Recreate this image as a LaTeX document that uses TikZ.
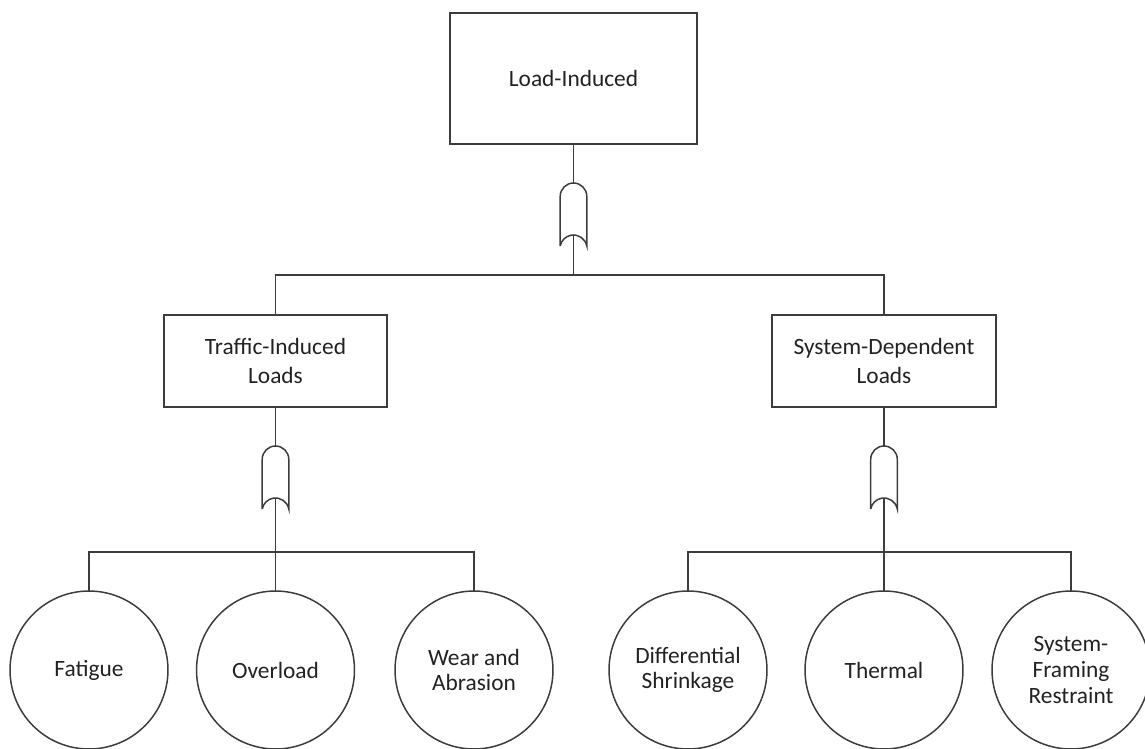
\documentclass[tikz,border=0pt]{standalone}
\usepackage{fontspec}
\setmainfont{Carlito}
\definecolor{ln}{HTML}{3C3C3C}
\definecolor{tx}{HTML}{222222}
\begin{document}
\begin{tikzpicture}[x=0.02cm,y=0.02cm,
  every node/.style={inner sep=0pt,outer sep=0pt,text=tx,align=center},
  conn/.style={draw=ln,line width=0.85pt},
  gateline/.style={draw=ln,line width=0.85pt},
  evbox/.style={draw=ln,line width=0.85pt,rectangle,font=\fontsize{13.3}{16.5}\selectfont},
  evcirc/.style={draw=ln,line width=0.85pt,circle,minimum size=3.16cm,font=\fontsize{13.3}{14.6}\selectfont},
  orgate/.pic={
    \draw[gateline] (-13.3,-63) -- (-13.3,-13.3) arc[start angle=180,end angle=0,radius=0.266cm]
      -- (13.3,-63) arc[start angle=10.8,end angle=169.2,radius=0.271cm];
    \coordinate (-in) at (0,0);
    \coordinate (-out) at (0,-52);
  }]
\useasboundingbox (0,0) rectangle (1145,-748);

% events
\node[evbox,minimum width=4.94cm,minimum height=2.62cm] (top) at (573.5,-78.5) {Load-Induced};
\node[evbox,minimum width=4.46cm,minimum height=1.84cm] (traffic) at (275.5,-361) {Traffic-Induced\\Loads};
\node[evbox,minimum width=4.48cm,minimum height=1.84cm] (system) at (884,-361) {System-Dependent\\Loads};

\node[evcirc] (c1) at (89,-670) {Fatigue};
\node[evcirc] (c2) at (275.5,-670) {Overload};
\node[evcirc] (c3) at (474,-670) {Wear and\\Abrasion};
\node[evcirc] (c4) at (688,-670) {Differential\\Shrinkage};
\node[evcirc] (c5) at (884,-670) {Thermal};
\node[evcirc] (c6) at (1071,-670) {System-\\Framing\\Restraint};

% gates
\pic (g1) at (573.5,-183) {orgate};
\pic (g2) at (275.5,-446) {orgate};
\pic (g3) at (884,-446) {orgate};

% junctions
\coordinate (j1) at (573.5,-275);
\coordinate (j2) at (275.5,-552);
\coordinate (j3) at (884,-552);

% connectors
\draw[conn] (top.south) -- (g1-in);
\draw[conn] (g1-out) -- (j1);
\draw[conn] (traffic.north) |- (j1) -| (system.north);

\draw[conn] (traffic.south) -- (g2-in);
\draw[conn] (g2-out) -- (c2.north);
\draw[conn] (c1.north) |- (j2) -| (c3.north);

\draw[conn] (system.south) -- (g3-in);
\draw[conn] (g3-out) -- (c5.north);
\draw[conn] (c4.north) |- (j3) -| (c6.north);
\end{tikzpicture}
\end{document}
